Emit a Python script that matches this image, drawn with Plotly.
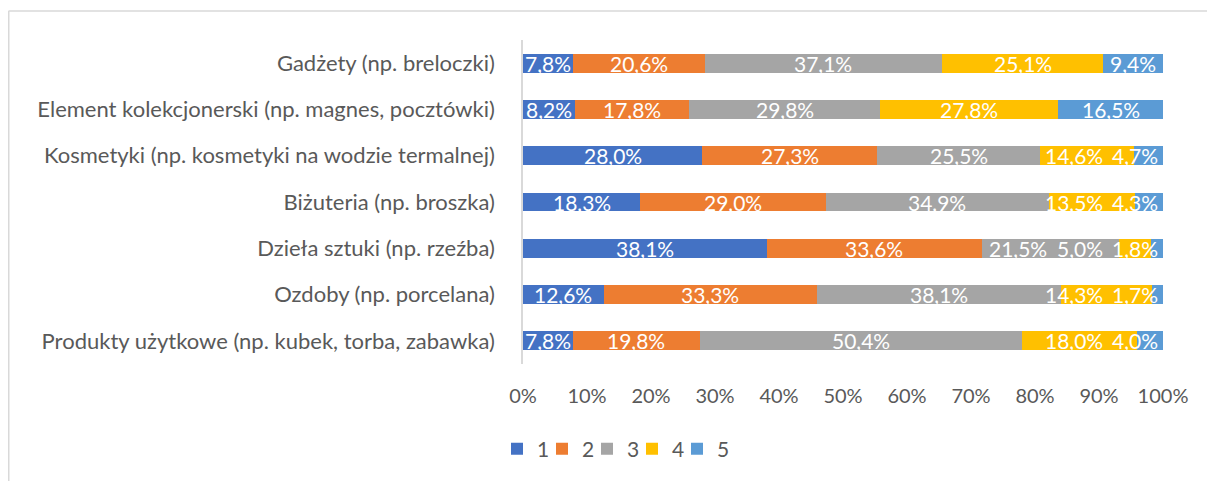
import plotly.graph_objects as go

categories = [
    "Gadżety (np. breloczki)",
    "Element kolekcjonerski (np. magnes, pocztówki)",
    "Kosmetyki (np. kosmetyki na wodzie termalnej)",
    "Biżuteria (np. broszka)",
    "Dzieła sztuki (np. rzeźba)",
    "Ozdoby (np. porcelana)",
    "Produkty użytkowe (np. kubek, torba, zabawka)",
]
series_names = ["1", "2", "3", "4", "5"]
s1 = [7.8, 8.2, 28.0, 18.3, 38.1, 12.6, 7.8]
s2 = [20.6, 17.8, 27.3, 29.0, 33.6, 33.3, 19.8]
s3 = [37.1, 29.8, 25.5, 34.9, 21.5, 38.1, 50.4]
s4 = [25.1, 27.8, 14.6, 13.5, 5.0, 14.3, 18.0]
s5 = [9.4, 16.5, 4.7, 4.3, 1.8, 1.7, 4.0]
tick_vals = [0, 10, 20, 30, 40, 50, 60, 70, 80, 90, 100]
tick_text = ["0%", "10%", "20%", "30%", "40%", "50%", "60%", "70%", "80%", "90%", "100%"]

colors = ["#4472C4", "#ED7D31", "#A5A5A5", "#FFC000", "#5B9BD5"]
series = [s1, s2, s3, s4, s5]
FONT = "Lato"
GREY_TXT = "#595959"

# the page body adds an 8px offset; size the figure to fill the rest of the window
OFF = 8
W, H = 1215 - OFF, 481 - OFF
L, R, T, B = 523 - OFF, 52, 40 - OFF, 117
PW, PH = W - L - R, H - T - B

LEG_STEP = 45           # px between legend entries
LEG_LEFT = 497 - OFF    # left edge of the first legend entry
LEG_Y = 1 - (449 - OFF) / H

legend_ids = ["legend"] + [f"legend{k}" for k in range(2, len(series_names) + 1)]

fig = go.Figure()
for idx, (name, vals, col) in enumerate(zip(series_names, series, colors)):
    fig.add_trace(go.Bar(
        y=categories, x=vals, name=name, orientation="h",
        marker=dict(color=col, line=dict(width=0)),
        hoverinfo="x+y",
        legend=legend_ids[idx],
    ))

# data labels (Excel-like: centred, nudged left to stay inside and avoid overlap)
PX_PER_UNIT = PW / 100.0
FS = 21
CHAR_W = {",": 0.24, "%": 0.86}


def text_width(t):
    return sum(CHAR_W.get(c, 0.58) for c in t) * FS


annotations = []
for i, cat in enumerate(categories):
    vals = [s[i] for s in series]
    labels = [f"{v:.1f}%".replace(".", ",") for v in vals]
    widths = [text_width(t) for t in labels]
    centers = []
    cum = 0
    for v in vals:
        centers.append(cum + v / 2)
        cum += v
    pos = centers[:]
    limit = 100 - 4 / PX_PER_UNIT
    for k in range(len(vals) - 1, -1, -1):
        half = widths[k] / 2 / PX_PER_UNIT
        pos[k] = min(pos[k], limit - half)
        limit = pos[k] - half - 8 / PX_PER_UNIT
    for k, t in enumerate(labels):
        annotations.append(dict(
            x=pos[k], y=cat, text=t, showarrow=False, xref="x", yref="y",
            font=dict(family=FONT, size=FS, color="white"),
            xanchor="center", yanchor="middle",
        ))

frame_top = (H - B - (11 - OFF)) / PH
frame_left = (0.5 - L) / PW

legends = {}
for k, lid in enumerate(legend_ids):
    legends[lid] = dict(
        orientation="h", xref="container", yref="container",
        x=(LEG_LEFT + k * LEG_STEP) / W, xanchor="left",
        y=LEG_Y, yanchor="middle",
        font=dict(family=FONT, size=21, color=GREY_TXT),
        bgcolor="rgba(0,0,0,0)",
    )

fig.update_layout(
    width=W, height=H,
    margin=dict(l=L, r=R, t=T, b=B, autoexpand=False),
    paper_bgcolor="white", plot_bgcolor="white",
    barmode="stack", bargap=0.59,
    font=dict(family=FONT, color=GREY_TXT, size=20),
    showlegend=True,
    annotations=annotations,
    shapes=[
        dict(type="line", xref="paper", yref="paper",
             x0=frame_left, x1=(W - L) / PW, y0=frame_top, y1=frame_top,
             line=dict(color="#D9D9D9", width=1.5)),
        dict(type="line", xref="paper", yref="paper",
             x0=frame_left, x1=frame_left, y0=frame_top, y1=(H - B - H) / PH,
             line=dict(color="#D9D9D9", width=2)),
    ],
    **legends,
)
fig.update_xaxes(
    range=[0, 100], tickvals=tick_vals, ticktext=tick_text,
    showgrid=False, zeroline=False, showline=False, ticks="",
    ticklabelstandoff=18, tickfont=dict(family=FONT, size=20, color=GREY_TXT),
    fixedrange=True,
)
fig.update_yaxes(
    categoryorder="array", categoryarray=categories[::-1],
    showgrid=False, zeroline=False, showline=True, linecolor="#D9D9D9", linewidth=1.5,
    ticks="", ticklabelstandoff=22,
    tickfont=dict(family=FONT, size=22, color=GREY_TXT),
    fixedrange=True,
)

fig.write_html("out.html")
